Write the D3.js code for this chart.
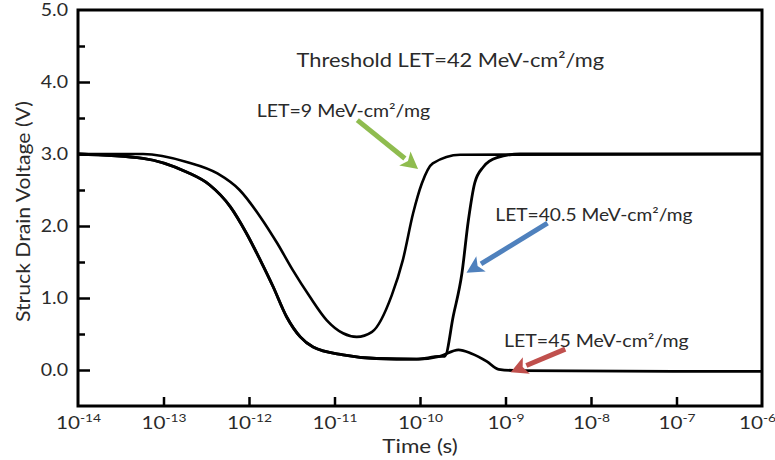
<!DOCTYPE html>
<html>
<head>
<meta charset="utf-8">
<script src="https://cdn.jsdelivr.net/npm/d3@7"></script>
<style>
  body { margin: 0; background: #fff; }
  text { font-family: Lato, "Open Sans", sans-serif; fill: #2a2a2a; }
</style>
</head>
<body>
<svg id="drawing_region"></svg>
<script>
// time in seconds, voltage in V
const let9Time = [1e-14, 5.75e-14, 1.86e-13, 4.27e-13, 7.76e-13, 1.35e-12, 2.14e-12, 3.24e-12, 5.13e-12, 8.13e-12,
                  1.26e-11, 1.82e-11, 2.75e-11, 4.68e-11, 6.31e-11, 8.32e-11, 1.05e-10, 1.41e-10, 2.95e-10, 1e-6];
const let9Volt = [3.0, 3.0, 2.89, 2.73, 2.5, 2.13, 1.76, 1.39, 1.02, 0.69,
                  0.51, 0.46, 0.53, 1.04, 1.53, 2.18, 2.59, 2.87, 2.99, 3.0];

const lowTime = [1e-14, 5.75e-14, 1.86e-13, 3.47e-13, 6.03e-13, 9.33e-13, 1.35e-12, 1.91e-12, 2.75e-12, 3.98e-12,
                 5.62e-12, 1.26e-11, 3.09e-11, 9.12e-11, 1.70e-10];
const lowVolt = [3.0, 2.94, 2.75, 2.57, 2.27, 1.90, 1.53, 1.16, 0.74, 0.46,
                 0.32, 0.21, 0.16, 0.15, 0.19];

const let40Time = lowTime.concat([1.95e-10, 2.45e-10, 3.09e-10, 3.67e-10, 4.37e-10, 5.50e-10, 7.94e-10, 1.48e-9, 1e-6]);
const let40Volt = lowVolt.concat([0.19, 0.75, 1.34, 2.07, 2.60, 2.82, 2.95, 3.0, 3.0]);

const let45Time = lowTime.concat([2.82e-10, 3.98e-10, 6.03e-10, 8.32e-10, 1.48e-9, 1e-6]);
const let45Volt = lowVolt.concat([0.28, 0.23, 0.12, 0.01, -0.01, -0.02]);

const xTickExps = [-14, -13, -12, -11, -10, -9, -8, -7, -6];
const yMajor = [0, 1, 2, 3, 4, 5];
const yMinor = [0.5, 1.5, 2.5, 3.5, 4.5];

// annotations: [text, time, volt, font size]
const labels = [
  ["Threshold LET=42 MeV-cm²/mg", 3.6e-12, 4.21, 19],
  ["LET=9 MeV-cm²/mg", 1.23e-12, 3.51, 17],
  ["LET=40.5 MeV-cm²/mg", 7.6e-10, 2.07, 16.7],
  ["LET=45 MeV-cm²/mg", 9.6e-10, 0.32, 17]
];
// arrows: [startTime, startVolt, tipTime, tipVolt, colour]
const arrows = [
  [1.85e-11, 3.47, 9.5e-11, 2.79, "#8fbc4f"],
  [3.1e-9, 2.04, 3.5e-10, 1.35, "#4f81bd"],
  [5.0e-9, 0.29, 1.15e-9, -0.03, "#c0504d"]
];

const W = 775, H = 460;
const m = { left: 78, right: 13, top: 10, bottom: 54 };
const stretch = 1.15; // text in the picture is a bit wide

const svg = d3.select("#drawing_region").attr("width", W).attr("height", H);

const x = d3.scaleLog().domain([1e-14, 1e-6]).range([m.left, W - m.right]);
const y = d3.scaleLinear().domain([-0.5, 5]).range([H - m.bottom, m.top]);

// frame
svg.append("rect")
  .attr("x", x(1e-14)).attr("y", y(5))
  .attr("width", x(1e-6) - x(1e-14)).attr("height", y(-0.5) - y(5))
  .attr("fill", "none").attr("stroke", "#000").attr("stroke-width", 3);

// y axis
const yAxis = svg.append("g").attr("transform", `translate(${m.left},0)`)
  .call(d3.axisLeft(y).tickValues(yMajor).tickSize(-12).tickPadding(0).tickFormat(d3.format(".1f")));
yAxis.select(".domain").remove();
yAxis.selectAll("line").attr("stroke-width", 2.5);
yAxis.selectAll("text")
  .attr("x", null)
  .attr("transform", `translate(-10,0) scale(${stretch},1)`)
  .style("font-size", "17px").attr("fill", "#333");
yAxis.selectAll(".tick").filter(d => d === 5).select("line").remove();

const yAxisMinor = svg.append("g").attr("transform", `translate(${m.left},0)`)
  .call(d3.axisLeft(y).tickValues(yMinor).tickSize(-7).tickFormat(""));
yAxisMinor.select(".domain").remove();
yAxisMinor.selectAll("line").attr("stroke-width", 2.5);

// x axis
const xAxis = svg.append("g").attr("transform", `translate(0,${H - m.bottom})`)
  .call(d3.axisBottom(x).tickValues(xTickExps.map(e => Math.pow(10, e))).tickSize(-9).tickFormat(""));
xAxis.select(".domain").remove();
xAxis.selectAll("line").attr("stroke-width", 2.5);
xAxis.selectAll(".tick").filter((d, i) => i === 0 || i === xTickExps.length - 1).select("line").remove();
xAxis.selectAll(".tick").each(function(d, i) {
  const shift = i === xTickExps.length - 1 ? -5 : 0;
  const t = d3.select(this).append("text")
    .attr("transform", `translate(${shift},23) scale(${stretch},1)`)
    .attr("text-anchor", "middle").attr("fill", "#333")
    .style("font-size", "18px");
  t.append("tspan").text("10");
  t.append("tspan").attr("dy", -7).style("font-size", "12px").text(xTickExps[i]);
});

// axis titles
svg.append("text")
  .attr("transform", `translate(${(x(1e-14) + x(1e-6)) / 2},453) scale(${stretch},1)`)
  .attr("text-anchor", "middle").style("font-size", "19.5px")
  .text("Time (s)");
svg.append("text")
  .attr("transform", `translate(30,${y(2.2)}) rotate(-90) scale(${stretch},1)`)
  .attr("text-anchor", "middle").style("font-size", "18.4px")
  .text("Struck Drain Voltage (V)");

// curves
const line = d3.line()
  .x(d => x(d[0])).y(d => y(d[1]))
  .curve(d3.curveMonotoneX);

const series = [
  [let9Time, let9Volt, 2.6],
  [let40Time, let40Volt, 2.8],
  [let45Time, let45Volt, 2.8]
];
series.forEach(s => {
  svg.append("path")
    .datum(s[0].map((t, i) => [t, s[1][i]]))
    .attr("d", line)
    .attr("fill", "none").attr("stroke", "#000")
    .attr("stroke-width", s[2]).attr("stroke-linejoin", "round");
});

// arrows
arrows.forEach(a => {
  const x0 = x(a[0]), y0 = y(a[1]), x1 = x(a[2]), y1 = y(a[3]);
  const ang = Math.atan2(y1 - y0, x1 - x0);
  const hl = 17, hw = 9;
  const bx = x1 - hl * Math.cos(ang), by = y1 - hl * Math.sin(ang);
  svg.append("line")
    .attr("x1", x0).attr("y1", y0).attr("x2", bx).attr("y2", by)
    .attr("stroke", a[4]).attr("stroke-width", 5);
  const px = -Math.sin(ang), py = Math.cos(ang);
  svg.append("path")
    .attr("d", `M${x1},${y1}L${bx + hw * px},${by + hw * py}L${bx + 4 * Math.cos(ang)},${by + 4 * Math.sin(ang)}L${bx - hw * px},${by - hw * py}Z`)
    .attr("fill", a[4]);
});

// annotation labels
labels.forEach(l => {
  svg.append("text")
    .attr("transform", `translate(${x(l[1])},${y(l[2])}) scale(${stretch},1)`)
    .style("font-size", l[3] + "px")
    .text(l[0]);
});
</script>
</body>
</html>
